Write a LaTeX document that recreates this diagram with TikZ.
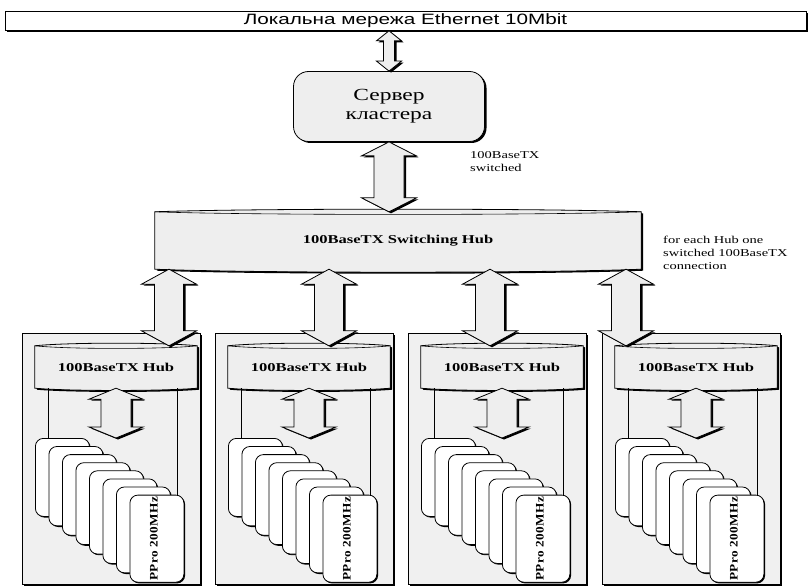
\documentclass[tikz,border=0pt]{standalone}
\usepackage{fontspec}
\setmainfont{Liberation Serif}
\newfontfamily\barfont[FakeStretch=1.38]{Liberation Sans}
\newfontfamily\widefont[FakeStretch=1.38]{Liberation Serif}
\newfontfamily\pprofont[LetterSpace=4,FakeStretch=1.15]{Liberation Serif}
\usetikzlibrary{calc,shadows}
\pgfdeclarelayer{back}
\pgfdeclarelayer{mid}
\pgfsetlayers{back,mid,main}
\definecolor{boxgray}{HTML}{EEEEEE}
\definecolor{panelgray}{HTML}{F0F0F0}
\tikzset{
 shadowbig/.style={drop shadow={shadow xshift=2bp, shadow yshift=-1.5bp, fill=black, opacity=1}},
 shadowsmall/.style={drop shadow={shadow xshift=1.2bp, shadow yshift=-1.2bp, fill=black, opacity=1}},
 barbox/.style={draw, fill=white, line width=0.6bp, shadowbig, inner sep=0pt, font=\barfont\fontsize{15bp}{17bp}\selectfont},
 serverbox/.style={draw, fill=boxgray, line width=0.8bp, rounded corners=15bp, shadowbig, align=center, inner sep=0pt, font=\widefont\fontsize{17bp}{19bp}\selectfont},
 hubbox/.style={inner sep=0pt, font=\widefont\bfseries\fontsize{12bp}{14bp}\selectfont},
 cylbody/.style={draw, fill=boxgray, line width=0.8bp, shadowbig},
 cylline/.style={draw, line width=0.6bp},
 panelbox/.style={draw, fill=panelgray, line width=0.6bp, shadowbig, inner sep=0pt, minimum width=178bp, minimum height=251bp},
 cardbox/.style={draw, fill=white, line width=0.8bp, rounded corners=8bp, shadowsmall, inner sep=0pt, minimum width=54bp, anchor=north west},
 pprotext/.style={font=\pprofont\bfseries\fontsize{11.5bp}{13bp}\selectfont, inner sep=0pt, rotate=90},
 lbltext/.style={align=left, inner sep=0pt, font=\widefont\fontsize{10.5bp}{13bp}\selectfont},
 rackline/.style={draw, line width=0.6bp},
 barrow/.style={draw, fill=boxgray, line width=0.8bp, shadowbig, line join=miter},
 blockarrow/.style n args={3}{to path={let \p1=(\tikztostart), \p2=(\tikztotarget) in
   (\x1,\y1) -- (\x1+#1,\y1-#3) -- (\x1+#2,\y1-#3) -- (\x1+#2,\y2+#3) -- (\x1+#1,\y2+#3) -- (\x1,\y2)
   -- (\x1-#1,\y2+#3) -- (\x1-#2,\y2+#3) -- (\x1-#2,\y1-#3) -- (\x1-#1,\y1-#3) -- cycle}},
 sagged/.style={to path={.. controls ($(\tikztostart)!0.2!(\tikztotarget)+(0,#1)$) and ($(\tikztostart)!0.8!(\tikztotarget)+(0,#1)$) .. (\tikztotarget)}},
}
\newcommand\hubcyl[3]{%
 \begin{pgfonlayer}{mid}
  \path[cylbody] (#1.north west) -- (#1.south west) to[sagged=#3] (#1.south east) -- (#1.north east) to[sagged=-#2] (#1.north west) -- cycle;
  \path[cylline] (#1.north west) to[sagged=#2] (#1.north east);
 \end{pgfonlayer}}
\begin{document}
\begin{tikzpicture}[x=1bp,y=-1bp]
\useasboundingbox (0,0) rectangle (812,586);
\begin{pgfonlayer}{back}
\fill[white] (0,0) rectangle (812,586);
\end{pgfonlayer}
\node[barbox, minimum width=801bp, minimum height=19bp] (lan) at (405.5,21) {Локальна мережа Ethernet 10Mbit};
\node[serverbox, minimum width=191bp, minimum height=70bp] (srv) at (389,106.5) {Сервер\\кластера};
\node[hubbox, minimum width=486bp, minimum height=57bp] (sw) at (398,240.5) {100BaseTX Switching Hub};
\hubcyl{sw}{3.5}{4}
\node[lbltext, anchor=north west] (lblsw) at (470,151) {100BaseTX\\switched};
\node[lbltext, anchor=north west] (lblhub) at (663,236) {for each Hub one\\switched 100BaseTX\\connection};
\draw[barrow, blockarrow={12.5bp}{5.5bp}{10bp}] (lan.south -| srv.north) to (srv.north);
\draw[barrow, blockarrow={27.5bp}{15bp}{14bp}] (srv.south) to (sw.north);
\foreach \i/\px/\ax in {1/22/169,2/215/329,3/408/490,4/602/626}{
  \begin{pgfonlayer}{back}
   \node[panelbox] (panel\i) at (\px+89,458.5) {};
  \end{pgfonlayer}
  \node[hubbox, minimum width=162bp, minimum height=42bp] (hub\i) at (\px+94,367) {100BaseTX Hub};
  \hubcyl{hub\i}{3.5}{3}
  \coordinate (rl\i) at (\px+26,388);
  \coordinate (rr\i) at (\px+155,388);
  \coordinate (ax\i) at (\ax,300);
  \foreach \j in {1,...,8}{
    \pgfmathsetmacro\cx{\px+13+(\j-1)*13.5}
    \pgfmathsetmacro\cy{438+(\j-1)*8.1}
    \pgfmathsetmacro\ch{78+(\j-1)*1.3}
    \node[cardbox, minimum height=\ch bp] (card\i\j) at (\cx,\cy) {};
  }
  \path[rackline] (rl\i) -- (rl\i |- card\i1.north);
  \path[rackline] (rr\i) -- (rr\i |- card\i8.north);
  \node[pprotext] (ppro\i) at ($(card\i8.center)+(-3,0)$) {PPro 200MHz};
  \draw[barrow, blockarrow={27bp}{15bp}{11bp}] (hub\i.south) to (hub\i.south |- card\i1.north);
  \draw[barrow, blockarrow={27.5bp}{14.5bp}{15bp}] (sw.south -| ax\i) to (hub\i.north -| ax\i);
}
\end{tikzpicture}
\end{document}
